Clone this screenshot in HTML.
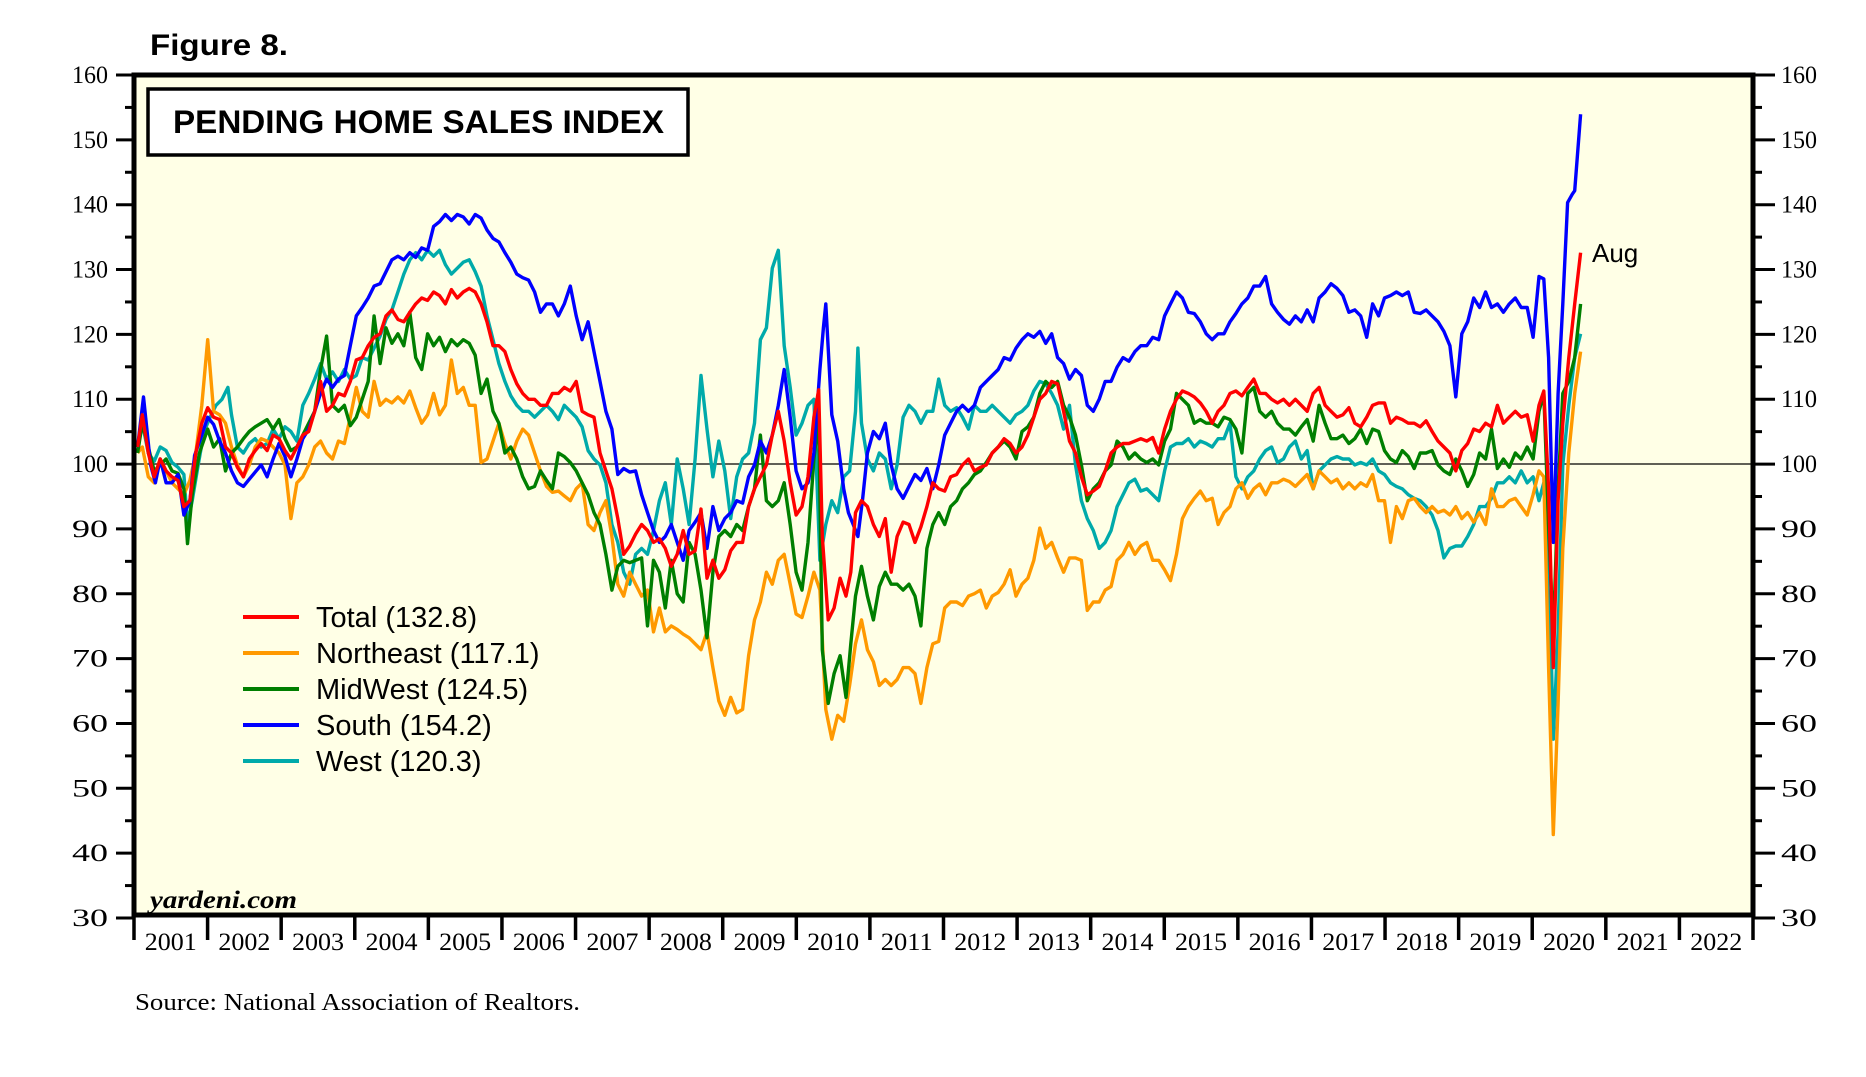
<!DOCTYPE html>
<html><head><meta charset="utf-8"><style>
html,body{margin:0;padding:0;background:#fff;}
svg{display:block;}
</style></head><body>
<svg id="c" width="1866" height="1077" xmlns="http://www.w3.org/2000/svg">
<text x="150" y="55" font-family="Liberation Sans, sans-serif" font-weight="bold" font-size="30" textLength="138" lengthAdjust="spacingAndGlyphs">Figure 8.</text>
<rect x="134" y="75" width="1619" height="840" fill="#ffffe6"/>
<defs><clipPath id="cp"><rect x="136" y="77" width="1615" height="836"/></clipPath></defs>
<line x1="134" y1="464" x2="1753" y2="464" stroke="#000" stroke-width="1.3"/>
<g id="ser" clip-path="url(#cp)"></g>
<rect x="134" y="75" width="1619" height="840" fill="none" stroke="#000" stroke-width="5"/>
<rect x="148" y="89" width="540" height="66" fill="#fff" stroke="#000" stroke-width="3.5"/>
<text x="173" y="133" font-family="Liberation Sans, sans-serif" font-weight="bold" font-size="32" textLength="491" lengthAdjust="spacingAndGlyphs">PENDING HOME SALES INDEX</text>
<g id="ax" font-family="Liberation Serif, serif" font-size="25" fill="#000"></g>
<text x="150" y="908" font-family="Liberation Serif, serif" font-weight="bold" font-style="italic" font-size="25" textLength="147" lengthAdjust="spacingAndGlyphs">yardeni.com</text>
<text x="135" y="1010" font-family="Liberation Serif, serif" font-size="24" textLength="445" lengthAdjust="spacingAndGlyphs">Source: National Association of Realtors.</text>
<text x="1592" y="262" font-family="Liberation Sans, sans-serif" font-size="26">Aug</text>
<g font-family="Liberation Sans, sans-serif" font-size="29">
<line x1="243" y1="617" x2="299" y2="617" stroke="#ff0000" stroke-width="4"/><text x="316" y="627">Total (132.8)</text>
<line x1="243" y1="653" x2="299" y2="653" stroke="#ff9900" stroke-width="4"/><text x="316" y="663">Northeast (117.1)</text>
<line x1="243" y1="689" x2="299" y2="689" stroke="#007f00" stroke-width="4"/><text x="316" y="699">MidWest (124.5)</text>
<line x1="243" y1="725" x2="299" y2="725" stroke="#0000ff" stroke-width="4"/><text x="316" y="735">South (154.2)</text>
<line x1="243" y1="761" x2="299" y2="761" stroke="#00aaaa" stroke-width="4"/><text x="316" y="771">West (120.3)</text>
</g>
</svg>
<script>
var NS="http://www.w3.org/2000/svg";
function el(t,a,p,txt){var e=document.createElementNS(NS,t);for(var k in a)e.setAttribute(k,a[k]);if(txt!=null)e.textContent=txt;p.appendChild(e);return e;}
var ax=document.getElementById('ax');
function yv(v){return 75+(160-v)*843/130;}
for(var v=30;v<=160;v+=5){var y=yv(v);var maj=v%10==0;
el('line',{x1:maj?116:125,y1:y,x2:134,y2:y,stroke:'#000','stroke-width':3},ax);
el('line',{x1:1753,y1:y,x2:maj?1775:1762,y2:y,stroke:'#000','stroke-width':3},ax);
if(maj){el('text',{x:108,y:y+8,'text-anchor':'end',textLength:36,lengthAdjust:'spacingAndGlyphs'},ax,''+v);
el('text',{x:1781,y:y+8,textLength:36,lengthAdjust:'spacingAndGlyphs'},ax,''+v);}}
var yw=1619/22;
for(var k=0;k<=22;k++){var x=134+k*yw;el('line',{x1:x,y1:915,x2:x,y2:940,stroke:'#000','stroke-width':3.5},ax);
if(k<22)el('text',{x:x+yw/2,y:950,'text-anchor':'middle',textLength:52,lengthAdjust:'spacingAndGlyphs'},ax,''+(2001+k));}
var S={
west:[116,375,120,355,125,380,130,387,135,375,140,378,145,388,150,392,155,398,158,440,162,420,167,390,172,362,177,350,182,340,187,335,192,325,195,348,200,375,205,380,210,372,215,368,220,375,225,372,230,360,235,368,240,358,245,362,250,370,255,340,260,330,265,318,270,305,275,318,280,312,285,320,290,310,295,318,300,315,305,300,310,302,315,292,320,282,325,268,330,260,335,245,340,230,345,218,350,212,355,218,360,210,365,215,370,210,375,222,380,230,385,225,390,220,395,218,400,228,405,240,410,265,415,285,420,305,425,320,430,332,435,340,440,345,445,345,450,350,455,345,460,340,465,345,470,352,475,340,480,345,485,350,490,358,495,378,500,385,505,390,510,405,515,440,520,455,525,480,530,490,535,465,540,460,545,465,550,445,555,420,560,405,565,440,570,385,575,410,580,440,585,385,590,315,595,360,600,400,605,370,610,395,615,435,620,400,625,385,630,380,635,355,640,285,645,275,650,225,655,210,660,290,665,325,670,365,675,355,680,340,685,335,690,470,695,440,700,420,705,430,710,400,715,395,720,345,722,292,725,355,730,385,735,395,740,380,745,385,750,410,755,390,760,350,765,340,770,345,775,355,780,345,785,345,790,318,795,340,800,345,805,342,810,350,815,360,820,340,825,345,830,345,835,340,840,345,845,350,850,355,855,348,860,345,865,340,870,328,875,320,880,322,885,330,890,340,895,360,900,340,905,390,910,420,915,435,920,445,925,460,930,455,935,445,940,425,945,415,950,405,955,402,960,412,965,410,970,415,975,420,980,395,985,375,990,372,995,372,1000,368,1005,375,1010,370,1015,372,1020,375,1025,368,1030,368,1035,355,1040,400,1045,410,1050,400,1055,395,1060,385,1065,378,1070,375,1075,388,1080,385,1085,375,1090,370,1095,385,1100,378,1105,410,1110,395,1115,390,1120,385,1125,383,1130,385,1135,385,1140,390,1145,388,1150,390,1155,385,1160,395,1165,398,1170,405,1175,408,1180,410,1185,415,1190,418,1195,420,1200,425,1205,432,1210,445,1215,468,1220,460,1225,458,1230,458,1235,450,1240,440,1245,425,1250,425,1255,418,1260,405,1265,405,1270,400,1275,405,1280,395,1285,405,1290,400,1295,420,1299,405,1303,460,1307,620,1311,530,1315,390,1320,340,1325,300,1330,280],
ne:[116,380,120,375,125,400,130,405,135,385,140,395,145,405,150,410,155,415,160,403,165,380,170,340,175,285,180,345,185,348,190,355,195,375,200,390,205,400,210,390,215,375,220,368,225,370,230,375,235,380,240,390,245,435,250,405,255,400,260,390,265,375,270,370,275,380,280,385,285,370,290,372,295,350,300,325,305,345,310,350,315,320,320,340,325,335,330,338,335,333,340,338,345,328,350,342,355,355,360,348,365,330,370,348,375,340,380,302,385,330,390,325,395,340,400,340,405,388,410,385,415,370,420,355,425,372,430,385,435,370,440,360,445,365,450,380,455,395,460,408,465,413,470,412,475,416,480,420,485,410,490,405,495,440,500,445,505,430,510,420,515,450,520,490,525,500,530,480,535,490,540,500,545,495,550,530,555,510,560,530,565,525,570,528,575,532,580,535,585,540,590,545,595,530,600,560,605,588,610,600,615,585,620,598,625,595,630,550,635,520,640,505,645,480,650,490,655,470,660,465,665,490,670,515,675,518,680,500,685,480,690,495,695,595,700,620,705,600,710,605,715,575,720,540,725,520,730,545,735,555,740,575,745,570,750,575,755,570,760,560,765,560,770,565,775,590,780,560,785,540,790,538,795,510,800,505,805,505,810,508,815,500,820,498,825,495,830,510,835,500,840,497,845,490,850,478,855,500,860,490,865,485,870,470,875,443,880,460,885,455,890,468,895,480,900,468,905,468,910,470,915,512,920,505,925,505,930,495,935,492,940,470,945,465,950,455,955,465,960,458,965,455,970,470,975,470,980,478,985,487,990,465,995,435,1000,425,1005,418,1010,412,1015,420,1020,418,1025,440,1030,430,1035,425,1040,410,1045,405,1050,418,1055,410,1060,406,1065,415,1070,405,1075,405,1080,402,1085,404,1090,408,1095,403,1100,398,1105,410,1110,395,1115,400,1120,405,1125,402,1130,410,1135,405,1140,410,1145,405,1150,408,1155,398,1160,420,1165,420,1170,455,1175,425,1180,435,1185,420,1190,418,1195,425,1200,430,1205,425,1210,430,1215,428,1220,432,1225,425,1230,435,1235,430,1240,438,1245,430,1250,440,1255,410,1260,425,1265,425,1270,420,1275,418,1280,425,1285,432,1290,415,1295,395,1299,400,1303,560,1307,700,1311,590,1315,460,1320,380,1325,330,1330,295],
mw:[116,380,120,355,125,375,130,395,135,390,140,385,145,395,150,397,155,410,158,456,162,415,168,380,175,360,180,375,185,368,190,395,195,380,200,375,205,368,210,362,215,358,220,355,225,352,230,360,235,352,240,368,245,378,250,375,255,365,260,355,265,345,270,310,275,282,280,340,285,345,290,340,295,357,300,350,305,335,310,320,315,265,320,305,325,275,330,288,335,280,340,290,345,262,350,300,355,310,360,280,365,290,370,283,375,295,380,285,385,290,390,285,395,288,400,298,405,330,410,318,415,345,420,355,425,380,430,375,435,385,440,400,445,410,450,408,455,395,460,403,465,410,470,380,475,383,480,388,485,395,490,405,495,415,500,430,505,440,510,465,515,495,520,475,525,470,530,472,535,470,540,468,545,525,550,470,555,480,560,510,565,470,570,498,575,505,580,455,585,465,590,495,595,535,600,480,605,450,610,445,615,450,620,440,625,445,630,425,635,410,640,365,645,420,650,425,655,420,660,405,665,440,670,480,675,495,680,455,685,385,689,350,692,545,697,590,702,565,707,550,712,585,716,540,720,500,725,475,730,500,735,520,740,492,745,480,750,490,755,490,760,495,765,490,770,500,775,525,780,460,785,440,790,430,795,440,800,425,805,420,810,410,815,405,820,398,825,395,830,388,835,380,840,375,845,370,850,375,855,385,860,362,865,358,870,350,875,330,880,320,885,325,890,320,895,340,900,350,905,365,910,390,915,420,920,410,925,405,930,395,935,390,940,370,945,375,950,385,955,380,960,385,965,388,970,385,975,390,980,370,985,360,990,330,995,335,1000,340,1005,355,1010,352,1015,355,1020,355,1025,358,1030,350,1035,352,1040,360,1045,380,1050,330,1055,325,1060,345,1065,350,1070,345,1075,355,1080,360,1085,360,1090,365,1095,358,1100,352,1105,370,1110,340,1115,355,1120,368,1125,368,1130,365,1135,372,1140,368,1145,360,1150,372,1155,360,1160,362,1165,378,1170,385,1175,388,1180,378,1185,383,1190,393,1195,380,1200,380,1205,378,1210,390,1215,395,1220,398,1225,385,1230,395,1235,408,1240,398,1245,380,1250,385,1255,360,1260,393,1265,385,1270,392,1275,380,1280,385,1285,375,1290,385,1295,345,1299,330,1303,440,1307,535,1311,410,1315,330,1320,320,1325,300,1330,255],
south:[116,375,121,333,127,390,131,405,135,385,140,405,145,405,150,398,155,432,160,420,164,382,170,365,175,350,180,356,185,370,190,380,195,395,200,405,205,408,210,402,215,396,220,390,225,400,230,385,235,372,240,383,245,400,250,385,255,368,260,360,265,345,270,330,275,318,280,325,285,318,290,315,295,290,300,265,305,258,310,250,315,240,320,238,325,228,330,218,335,215,340,218,345,212,350,216,355,208,360,210,365,190,370,186,375,180,380,185,385,180,390,182,395,188,400,180,405,183,410,193,415,200,420,203,425,212,430,220,435,230,440,233,445,235,450,245,455,262,460,255,465,255,470,265,475,255,480,240,485,265,490,285,495,270,500,295,505,320,510,345,515,360,520,398,525,393,530,396,535,395,540,415,545,430,550,445,555,455,560,450,565,440,570,455,575,470,580,445,585,438,590,430,595,460,600,425,605,445,610,435,615,430,620,420,625,422,630,400,635,390,640,370,645,380,650,365,655,340,660,310,665,350,670,395,675,410,680,405,685,380,690,310,693,275,695,255,700,348,705,370,710,410,714,430,718,440,722,450,726,418,730,380,735,362,740,368,745,355,750,390,755,410,760,418,765,408,770,398,775,403,780,393,785,410,790,390,795,365,800,355,805,345,810,340,815,345,820,340,825,325,830,320,835,315,840,310,845,300,850,302,855,292,860,285,865,280,870,283,875,278,880,288,885,280,890,300,895,305,900,318,905,310,910,315,915,340,920,345,925,335,930,320,935,320,940,308,945,300,950,303,955,295,960,290,965,290,970,283,975,285,980,265,985,255,990,245,995,250,1000,262,1005,263,1010,270,1015,280,1020,285,1025,280,1030,280,1035,270,1040,263,1045,255,1050,250,1055,240,1060,240,1065,232,1070,255,1075,262,1080,268,1085,272,1090,265,1095,270,1100,260,1105,270,1110,250,1115,245,1120,238,1125,242,1130,248,1135,262,1140,260,1145,265,1150,283,1155,255,1160,265,1165,250,1170,248,1175,245,1180,248,1185,245,1190,262,1195,263,1200,260,1205,265,1210,270,1215,278,1220,290,1225,333,1230,280,1235,270,1240,250,1245,258,1250,245,1255,258,1260,255,1265,262,1270,255,1275,250,1280,258,1285,258,1290,283,1295,232,1299,234,1303,300,1307,455,1311,330,1315,255,1319,170,1323,163,1325,160,1330,96],
total:[116,375,120,348,125,380,130,400,135,385,140,395,145,400,150,403,155,425,160,420,165,380,170,355,175,342,180,350,185,352,190,375,195,380,200,392,205,400,210,385,215,378,220,372,225,378,230,365,235,368,240,378,245,385,250,375,255,365,260,362,265,345,270,320,275,345,280,340,285,330,290,332,295,320,300,302,305,300,310,290,315,283,320,280,325,265,330,260,335,268,340,270,345,262,350,255,355,250,360,252,365,245,370,248,375,255,380,243,385,250,390,245,395,242,400,245,405,255,410,270,415,290,420,290,425,295,430,310,435,322,440,330,445,335,450,335,455,340,460,340,465,330,470,330,475,325,480,328,485,320,490,345,495,348,500,350,505,380,510,395,515,410,520,435,525,465,530,458,535,448,540,440,545,445,550,455,555,452,560,460,565,475,570,465,575,445,580,465,585,462,590,427,595,485,600,470,605,485,610,478,615,462,620,455,625,455,630,425,635,410,640,400,645,390,650,365,655,345,660,370,665,405,670,432,675,425,680,400,685,350,689,327,692,450,697,520,702,510,707,485,712,500,716,480,720,430,725,420,730,425,735,440,740,450,745,435,750,480,755,450,760,438,765,440,770,455,775,442,780,425,785,405,790,410,795,412,800,400,805,398,810,390,815,385,820,395,825,392,830,390,835,380,840,375,845,368,850,372,855,380,860,375,865,365,870,350,875,335,880,330,885,320,890,322,895,345,900,370,905,380,910,400,915,415,920,412,925,408,930,395,935,380,940,375,945,372,950,372,955,370,960,368,965,370,970,367,975,380,980,360,985,345,990,335,995,328,1000,330,1005,333,1010,338,1015,345,1020,355,1025,345,1030,340,1035,330,1040,328,1045,332,1050,325,1055,318,1060,330,1065,330,1070,335,1075,338,1080,335,1085,340,1090,335,1095,340,1100,345,1105,330,1110,325,1115,340,1120,345,1125,350,1130,348,1135,342,1140,355,1145,358,1150,350,1155,340,1160,338,1165,338,1170,355,1175,350,1180,352,1185,355,1190,355,1195,358,1200,353,1205,362,1210,370,1215,375,1220,380,1225,395,1230,378,1235,372,1240,360,1245,362,1250,355,1255,358,1260,340,1265,355,1270,350,1275,345,1280,350,1285,348,1290,370,1295,340,1299,328,1303,410,1307,560,1311,420,1315,355,1320,300,1325,255,1330,212]
};
var cols={west:'#00aaaa',ne:'#ff9900',mw:'#007f00',south:'#0000ff',total:'#ff0000'};
var g=document.getElementById('ser');
['west','ne','mw','south','total'].forEach(function(k){var a=S[k],pts=[];
for(var i=0;i<a.length;i+=2){pts.push((134+(a[i]-113)*1.1887).toFixed(1)+','+(75+(a[i+1]-63)*1.1924).toFixed(1));}
el('polyline',{points:pts.join(' '),fill:'none',stroke:cols[k],'stroke-width':3.4,'stroke-linejoin':'round'},g);});
</script>
</body></html>
